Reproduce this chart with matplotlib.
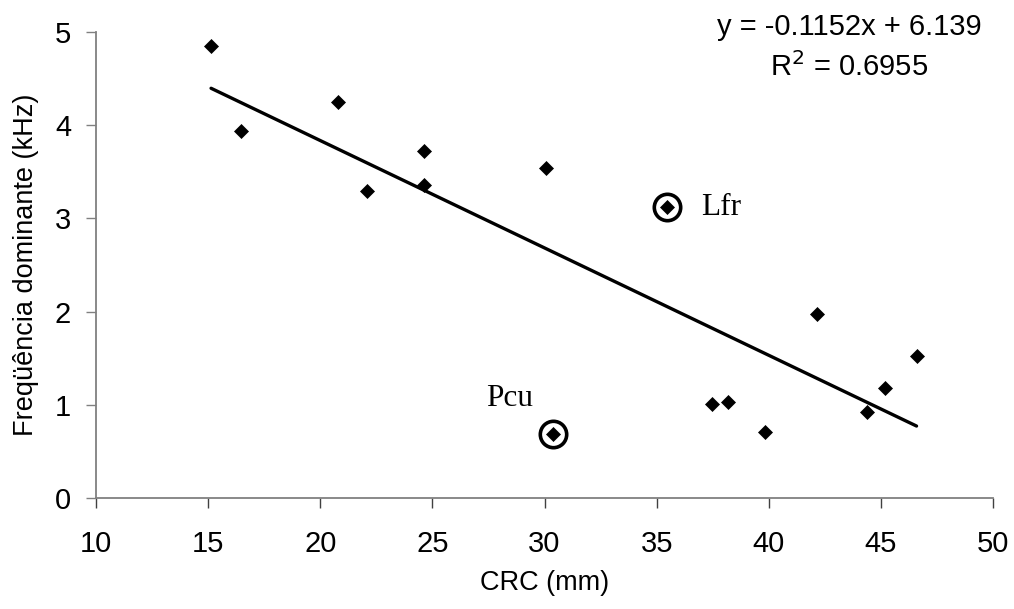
import numpy as np
import matplotlib.pyplot as plt

# CRC (mm) vs dominant frequency (kHz)
crc = [15.13, 16.46, 20.80, 22.07, 24.64, 24.64, 30.05, 35.44,
       30.39, 37.45, 38.16, 39.83, 42.13, 44.37, 45.17, 46.59]
freq = [4.85, 3.94, 4.25, 3.29, 3.72, 3.36, 3.54, 3.12,
        0.69, 1.01, 1.03, 0.71, 1.97, 0.92, 1.18, 1.52]

# highlighted species
hl_names = ['Lfr', 'Pcu']
hl_x = [35.44, 30.39]
hl_y = [3.12, 0.69]
hl_text_x = [37.0, 27.4]
hl_text_y = [3.04, 0.99]

slope = -0.1152
intercept = 6.139
r2 = 0.6955

plt.rcParams['font.family'] = ['Liberation Sans', 'DejaVu Sans']

fig = plt.figure(figsize=(10.14, 6.09), dpi=100)
ax = fig.add_axes([0.0947, 0.1823, 0.8846, 0.7652])

# trend line over the data range
xl = np.array([min(crc), max(crc)])
ax.plot(xl, slope * xl + intercept, color='black', lw=2.4, solid_capstyle='round')

ax.plot(crc, freq, linestyle='none', marker='D', markersize=6.8,
        color='black', mew=0.5)

# circles around the labelled points
ax.plot(hl_x, hl_y, linestyle='none', marker='o', markersize=19,
        mfc='none', mec='black', mew=2.6)
for name, tx, ty in zip(hl_names, hl_text_x, hl_text_y):
    ax.text(tx, ty, name, fontsize=22.5, family='Liberation Serif',
            ha='left', va='baseline')

ax.text(43.6, 5.05, 'y = %.4fx + %.3f' % (slope, intercept), fontsize=21,
        ha='center', va='center', clip_on=False)
ax.text(43.6, 4.62, r'R$^2$ = %.4f' % r2, fontsize=21,
        ha='center', va='center', clip_on=False)

ax.set_xlim(10, 50)
ax.set_ylim(0, 5)
ax.set_xticks(range(10, 51, 5))
ax.set_yticks(range(0, 6))

for side in ['top', 'right']:
    ax.spines[side].set_visible(False)
for side in ['left', 'bottom']:
    ax.spines[side].set_color('#808080')
    ax.spines[side].set_linewidth(1.3)

ax.tick_params(axis='x', direction='out', length=7, width=1, color='#404040',
               labelsize=21, pad=16)
ax.tick_params(axis='y', direction='out', length=7, width=1, color='#808080',
               labelsize=21, pad=11)

ax.set_xlabel('CRC (mm)', fontsize=19.5, labelpad=9)
ax.set_ylabel('Freqüência dominante (kHz)', fontsize=19.5, labelpad=11)

fig.savefig('out.png', dpi=100)
